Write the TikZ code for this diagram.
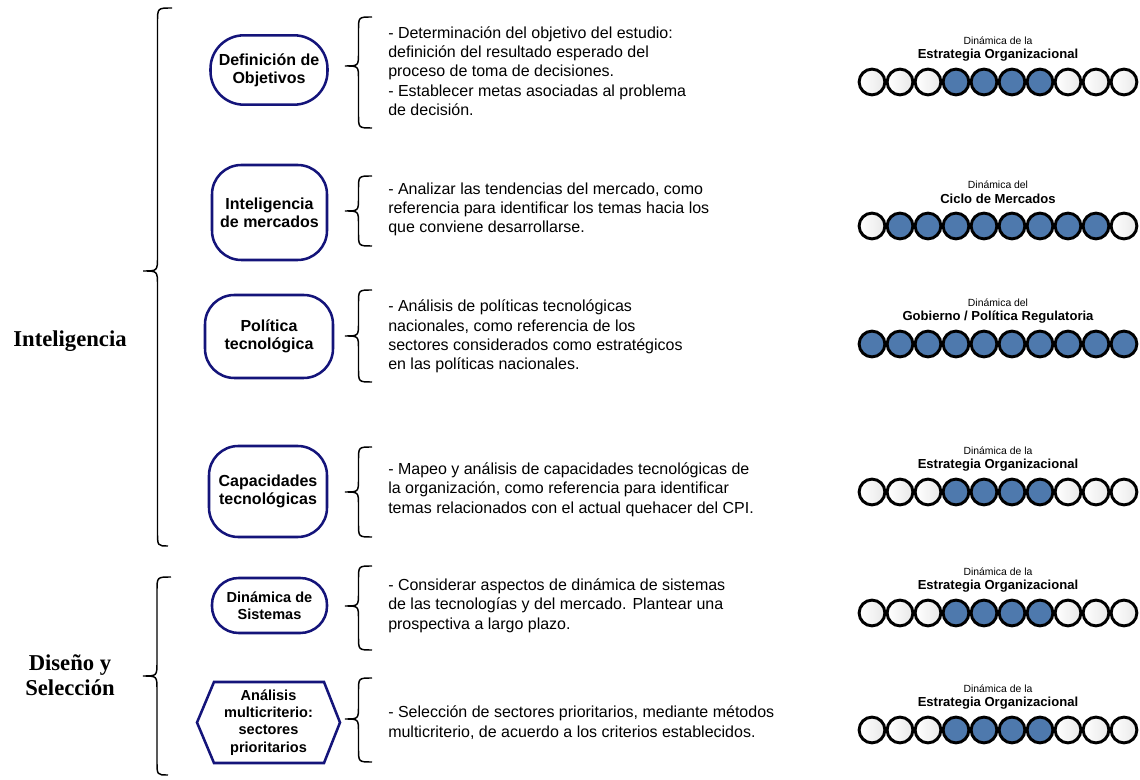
\documentclass[tikz,border=0pt]{standalone}
\usepackage{fontspec}
\setmainfont{Liberation Sans}
\newfontfamily\serifbold{Liberation Serif}
\definecolor{navyb}{HTML}{14147A}
\definecolor{dotblue}{HTML}{4E79AD}
\tikzset{
  nodebox/.style={draw=navyb, line width=1.9pt, rounded corners=22pt, align=center,
    font=\bfseries\fontsize{12}{13.5}\selectfont, inner sep=0pt},
  desc/.style={anchor=west, align=left, font=\fontsize{12}{14.5}\selectfont, inner sep=0pt},
  phase/.style={align=center, font=\serifbold\bfseries\fontsize{17}{19}\selectfont, inner sep=0pt},
  brc/.style={draw=black, line width=1.1pt},
  circ0/.style={circle, draw=black, line width=2.2pt, minimum size=19.3pt, inner sep=0pt,
    left color=white, middle color=white, right color=black!9},
  circ1/.style={circle, draw=black, line width=2.2pt, minimum size=19.3pt, inner sep=0pt,
    fill=dotblue},
  laba/.style={font=\fontsize{7.8}{9}\selectfont, inner sep=0pt},
  labb/.style={font=\bfseries\fontsize{9.8}{11}\selectfont, inner sep=0pt},
}
\newcommand\bracedraw[6]{%
  \pgfmathsetmacro\xm{(#1+#2)/2}\pgfmathsetmacro\rr{(#1-#2)/2}%
  \draw[brc] (#1,#3) .. controls (\xm,#3) .. (\xm,#3+\rr) -- (\xm,#4-\rr)
    .. controls (\xm,#4) .. (#2,#4) .. controls (\xm,#4) .. (\xm,#4+\rr)
    -- (\xm,#5-\rr) .. controls (\xm,#5) .. (#6,#5);}
\newcommand\circrow[5]{%
  \node[laba] (#1a) at (998,#2-41) {#3};
  \node[labb] (#1b) at (998,#2-27) {#4};
  \foreach \v [count=\i] in {#5} {
    \node[circ\v] (#1c\i) at ({844+28*\i},#2) {};
  }}
\begin{document}
\begin{tikzpicture}[x=0.75pt,y=-0.75pt]
\useasboundingbox (0,0) rectangle (1140,780);

% phase labels
\node[phase] (ph1) at (70,341) {Inteligencia};
\node[phase] (ph2) at (70,675) {Diseño y\\Selección};

% big braces
\bracedraw{172}{143}{8}{271}{546}{168}
\bracedraw{171}{143}{577}{676}{775}{168}

% step nodes
\node[nodebox, rounded corners=25pt, minimum width=87.75pt, minimum height=52pt] (n1) at (269,70) {Definición de\\Objetivos};
\node[nodebox, minimum width=86.25pt, minimum height=71.25pt] (n2) at (269.5,212.5) {Inteligencia\\de mercados};
\node[nodebox, minimum width=96pt, minimum height=62.25pt] (n3) at (269,336.5) {Política\\tecnológica};
\node[nodebox, minimum width=88.5pt, minimum height=68.25pt] (n4) at (268,491.5) {Capacidades\\tecnológicas};
\node[nodebox, rounded corners=20pt, minimum width=86.25pt, minimum height=41.25pt,
  font=\bfseries\fontsize{10.9}{12.5}\selectfont] (n5) at (269.5,605.5) {Dinámica de\\Sistemas};
\node[align=center, inner sep=0pt, font=\bfseries\fontsize{10.9}{13}\selectfont] (n6) at (268.5,722.5)
  {Análisis\\multicriterio:\\sectores\\prioritarios};
\draw[draw=navyb, line width=1.9pt, line join=miter] (197,722.5) -- (214,682) -- (324,682) -- (340,722.5) -- (324,763) -- (214,763) -- cycle;

% small braces
\bracedraw{372}{345}{17}{66}{128}{372}
\bracedraw{372}{345}{176}{211}{246}{372}
\bracedraw{372}{345}{290}{336}{382}{372}
\bracedraw{372}{345}{447}{492}{537}{372}
\bracedraw{372}{345}{566}{606}{650}{372}
\bracedraw{372}{345}{678}{719}{762}{372}

% descriptions
\node[desc] (d1) at (388,71) {- Determinación del objetivo del estudio:\\definición del resultado esperado del\\proceso de toma de decisiones.\\- Establecer metas asociadas al problema\\de decisión.};
\node[desc] (d2) at (388,209.5) {- Analizar las tendencias del mercado, como\\referencia para identificar los temas hacia los\\que conviene desarrollarse.};
\node[desc] (d3) at (388,336.5) {- Análisis de políticas tecnológicas\\nacionales, como referencia de los\\sectores considerados como estratégicos\\en las políticas nacionales.};
\node[desc] (d4) at (388,489.5) {- Mapeo y análisis de capacidades tecnológicas de\\la organización, como referencia para identificar\\temas relacionados con el actual quehacer del CPI.};
\node[desc] (d5) at (388,605.5) {- Considerar aspectos de dinámica de sistemas\\de las tecnologías y del mercado. Plantear una\\prospectiva a largo plazo.};
\node[desc] (d6) at (388,722.5) {- Selección de sectores prioritarios, mediante métodos\\multicriterio, de acuerdo a los criterios establecidos.};

% dynamics rows
\circrow{r1}{82}{Dinámica de la}{Estrategia Organizacional}{0,0,0,1,1,1,1,0,0,0}
\circrow{r2}{226}{Dinámica del}{Ciclo de Mercados}{0,1,1,1,1,1,1,1,1,0}
\circrow{r3}{344}{Dinámica del}{Gobierno / Política Regulatoria}{1,1,1,1,1,1,1,1,1,1}
\circrow{r4}{492}{Dinámica de la}{Estrategia Organizacional}{0,0,0,1,1,1,1,0,0,0}
\circrow{r5}{613}{Dinámica de la}{Estrategia Organizacional}{0,0,0,1,1,1,1,0,0,0}
\circrow{r6}{730}{Dinámica de la}{Estrategia Organizacional}{0,0,0,1,1,1,1,0,0,0}
\end{tikzpicture}
\end{document}
